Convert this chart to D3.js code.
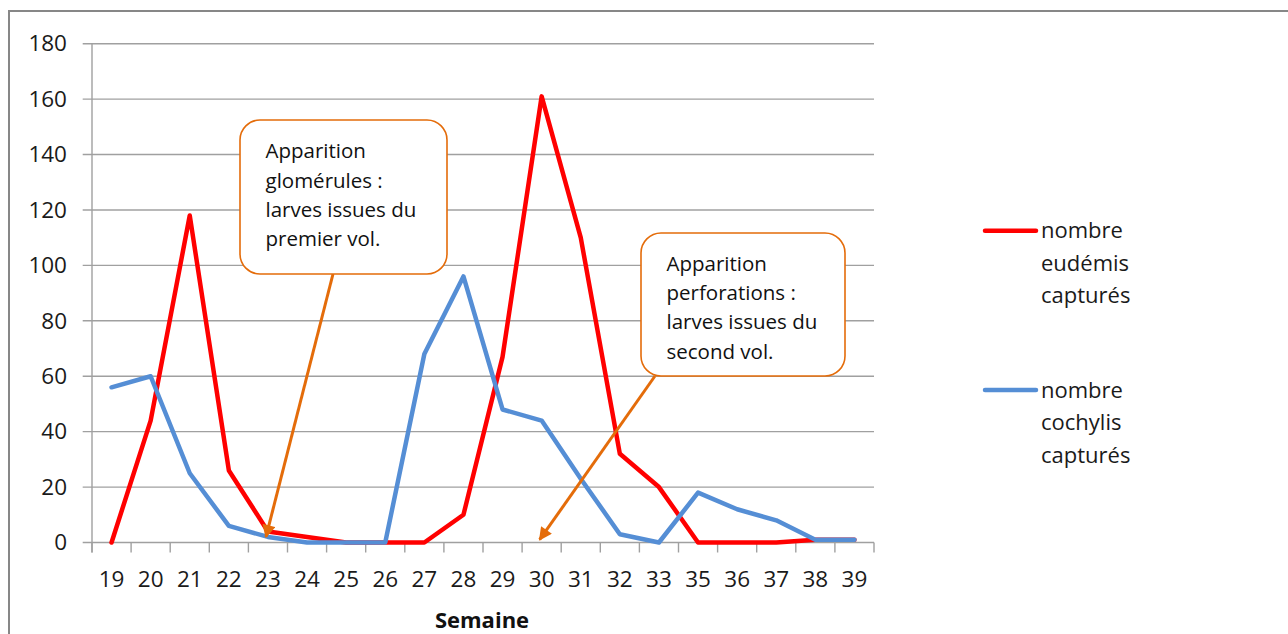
<!DOCTYPE html>
<html>
<head>
<meta charset="utf-8">
<script src="https://cdn.jsdelivr.net/npm/d3@7"></script>
<style>
  body { margin: 0; background: #fff; }
  text { font-family: "Open Sans", sans-serif; }
</style>
</head>
<body>
<div id="chart"></div>
<script>
// data
var weeks = ["19", "20", "21", "22", "23", "24", "25", "26", "27", "28", "29",
  "30", "31", "32", "33", "35", "36", "37", "38", "39"];
var eudemis = [0, 44, 118, 26, 4, 2, 0, 0, 0, 10, 67, 161, 110, 32, 20, 0, 0, 0, 1, 1];
var cochylis = [56, 60, 25, 6, 2, 0, 0, 0, 68, 96, 48, 44, 23, 3, 0, 18, 12, 8, 1, 1];
var yTicks = [0, 20, 40, 60, 80, 100, 120, 140, 160, 180];
var seriesNames = [["nombre", "eudémis", "capturés"], ["nombre", "cochylis", "capturés"]];
var notes = [
  ["Apparition", "glomérules :", "larves issues du", "premier vol."],
  ["Apparition", "perforations :", "larves issues du", "second vol."]
];
// where each arrow points (week, value)
var noteTargets = [["23", 2], ["30", 1]];

var svgWidth = 1288;
var svgHeight = 634;

var plot = { left: 92, right: 874, top: 43.7, bottom: 542.5 };

var svg = d3.select("#chart")
  .append("svg")
  .attr("width", svgWidth)
  .attr("height", svgHeight);

// outer frame
svg.append("rect")
  .attr("x", 9)
  .attr("y", 11)
  .attr("width", 1300)
  .attr("height", 700)
  .attr("fill", "none")
  .attr("stroke", "#878787")
  .attr("stroke-width", 2);

var x = d3.scaleBand()
  .domain(weeks)
  .range([plot.left, plot.right]);

var y = d3.scaleLinear()
  .domain([0, 180])
  .range([plot.bottom, plot.top]);

var xc = function(w) { return x(w) + x.bandwidth() / 2; };

// gridlines
svg.append("g")
  .selectAll("line")
  .data(yTicks)
  .enter()
  .append("line")
  .attr("x1", plot.left - 9.3)
  .attr("x2", plot.right)
  .attr("y1", d => y(d))
  .attr("y2", d => y(d))
  .attr("stroke", "#a0a0a0")
  .attr("stroke-width", 1.4);

// vertical axis line
svg.append("line")
  .attr("x1", plot.left)
  .attr("x2", plot.left)
  .attr("y1", plot.top)
  .attr("y2", plot.bottom + 10)
  .attr("stroke", "#a0a0a0")
  .attr("stroke-width", 1.4);

// x tick marks between categories
var bounds = weeks.map(w => x(w)).concat([plot.right]);
svg.append("g")
  .selectAll("line")
  .data(bounds)
  .enter()
  .append("line")
  .attr("x1", d => d)
  .attr("x2", d => d)
  .attr("y1", plot.bottom)
  .attr("y2", plot.bottom + 10)
  .attr("stroke", "#a0a0a0")
  .attr("stroke-width", 1.4);

// axis labels
var leftAxis = d3.axisLeft(y).tickValues(yTicks).tickSize(0).tickPadding(25);
var gy = svg.append("g")
  .attr("transform", `translate(${plot.left}, 0)`)
  .call(leftAxis);

var bottomAxis = d3.axisBottom(x).tickSize(0).tickPadding(28.8);
var gx = svg.append("g")
  .attr("transform", `translate(0, ${plot.bottom})`)
  .call(bottomAxis);

[gx, gy].forEach(function(g) {
  g.select(".domain").remove();
  g.selectAll("text")
    .attr("font-family", "Open Sans, sans-serif")
    .attr("font-size", "22.5px")
    .attr("fill", "#1a1a1a");
});

svg.append("text")
  .attr("x", 482)
  .attr("y", 628)
  .attr("text-anchor", "middle")
  .attr("font-size", "22px")
  .attr("font-weight", "bold")
  .attr("fill", "#111")
  .text("Semaine");

// lines
var lineGen = d3.line()
  .x((d, i) => xc(weeks[i]))
  .y(d => y(d));

var colors = ["#ff0000", "#558ed5"];
[eudemis, cochylis].forEach(function(values, k) {
  svg.append("path")
    .datum(values)
    .attr("d", lineGen)
    .attr("fill", "none")
    .attr("stroke", colors[k])
    .attr("stroke-width", 4.5)
    .attr("stroke-linejoin", "round")
    .attr("stroke-linecap", "round");
});

// legend
var legendY = [230.7, 390];
seriesNames.forEach(function(lines, k) {
  svg.append("line")
    .attr("x1", 985)
    .attr("x2", 1036)
    .attr("y1", legendY[k])
    .attr("y2", legendY[k])
    .attr("stroke", colors[k])
    .attr("stroke-width", 4.5)
    .attr("stroke-linecap", "round");
  var t = svg.append("text")
    .attr("x", 1041)
    .attr("y", legendY[k] + 7.6)
    .attr("font-size", "22px")
    .attr("fill", "#1a1a1a");
  lines.forEach(function(s, i) {
    t.append("tspan")
      .attr("x", 1041)
      .attr("dy", i === 0 ? 0 : 32.5)
      .text(s);
  });
});

// callouts
var orange = "#e46c0a";
svg.append("defs")
  .append("marker")
  .attr("id", "head")
  .attr("viewBox", "0 0 10 10")
  .attr("refX", 9)
  .attr("refY", 5)
  .attr("markerWidth", 5)
  .attr("markerHeight", 4.4)
  .attr("markerUnits", "strokeWidth")
  .attr("orient", "auto")
  .append("path")
  .attr("d", "M0,0L10,5L0,10Z")
  .attr("fill", orange);

var boxes = [
  { x: 240, y: 120, w: 207, h: 154, tx: 265.5, ty: 158.3, sx: 333, sy: 274 },
  { x: 641, y: 233, w: 204, h: 143, tx: 666.5, ty: 270.7, sx: 655, sy: 376 }
];

boxes.forEach(function(b, k) {
  var tw = noteTargets[k];
  svg.append("line")
    .attr("x1", b.sx)
    .attr("y1", b.sy)
    .attr("x2", xc(tw[0]) - 2)
    .attr("y2", y(tw[1]))
    .attr("stroke", orange)
    .attr("stroke-width", 3)
    .attr("marker-end", "url(#head)");

  svg.append("rect")
    .attr("x", b.x)
    .attr("y", b.y)
    .attr("width", b.w)
    .attr("height", b.h)
    .attr("rx", 20)
    .attr("fill", "#fff")
    .attr("stroke", orange)
    .attr("stroke-width", 1.6);

  var t = svg.append("text")
    .attr("x", b.tx)
    .attr("y", b.ty)
    .attr("font-size", "20.5px")
    .attr("fill", "#111");
  notes[k].forEach(function(s, i) {
    t.append("tspan")
      .attr("x", b.tx)
      .attr("dy", i === 0 ? 0 : 29.3)
      .text(s);
  });
});
</script>
</body>
</html>
